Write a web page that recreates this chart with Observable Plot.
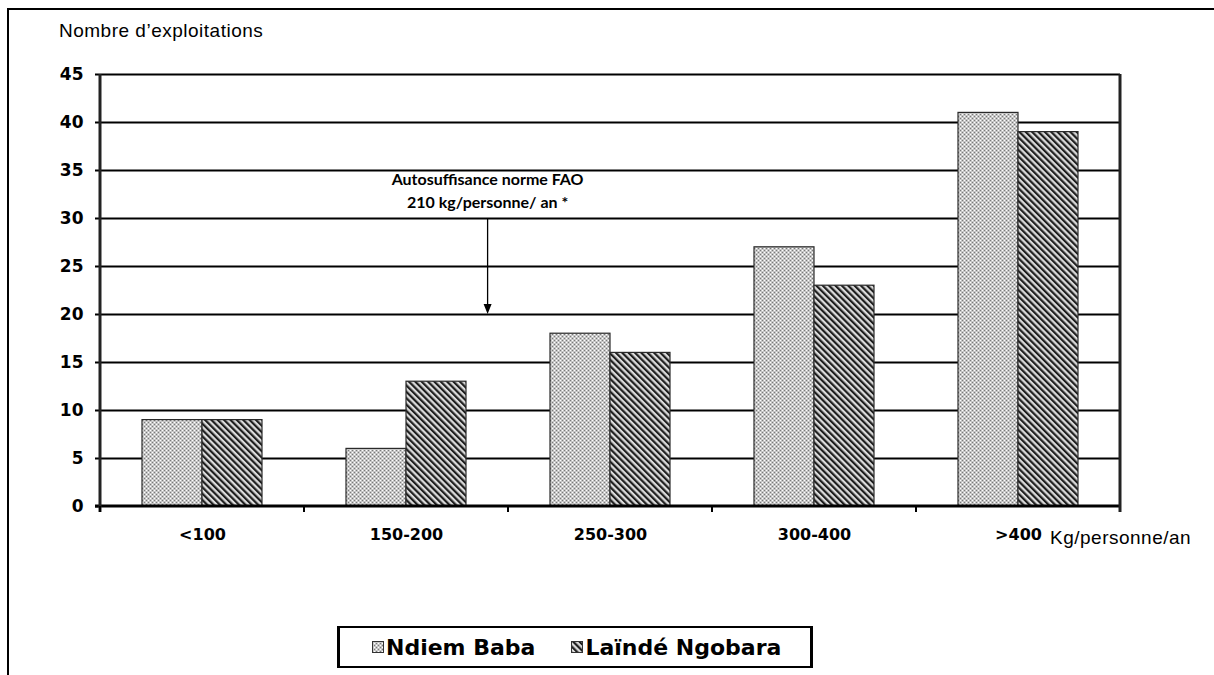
<!DOCTYPE html>
<html><head><meta charset="utf-8">
<script src="https://cdn.jsdelivr.net/npm/d3@7"></script>
<script src="https://cdn.jsdelivr.net/npm/@observablehq/plot@0.6"></script>
<style>
body{margin:0;background:#fff;}
#wrap{position:relative;width:1214px;height:675px;overflow:hidden;background:#fff;font-family:"Liberation Sans",Arial,sans-serif;color:#000;}
.bt{position:absolute;left:7px;top:8px;width:1207px;height:2px;background:#000;}
.bl{position:absolute;left:7px;top:8px;width:2px;height:667px;background:#000;}
#chart{position:absolute;left:0;top:0;}
#title{position:absolute;left:59px;top:20px;font-size:19px;letter-spacing:0.5px;white-space:nowrap;}
#unit{position:absolute;left:1050px;top:527px;font-size:19px;letter-spacing:0.5px;white-space:nowrap;}
#legend{position:absolute;left:337px;top:626px;width:476px;height:42px;border:2px solid #000;border-left-width:3px;border-right-width:3px;display:flex;align-items:center;padding-left:32px;box-sizing:border-box;font-family:"DejaVu Sans",sans-serif;font-weight:bold;font-size:22px;white-space:nowrap;}
#legend .item{display:flex;align-items:center;margin-right:36px;}
#legend svg{margin-right:2px;}
</style>
</head>
<body>
<svg width="0" height="0" style="position:absolute">
<defs>
<pattern id="patNdiem" patternUnits="userSpaceOnUse" width="4" height="4">
 <rect width="4" height="4" fill="#c6c6c6"/>
 <rect x="0" y="0" width="1" height="1" fill="#ffffff"/>
 <rect x="2" y="2" width="1" height="1" fill="#ffffff"/>
 <rect x="2" y="0" width="1" height="1" fill="#7a7a7a"/>
 <rect x="0" y="2" width="1" height="1" fill="#7a7a7a"/>
</pattern>
<pattern id="patLainde" patternUnits="userSpaceOnUse" width="4.5" height="4.5" patternTransform="rotate(-45)">
 <rect width="4.5" height="4.5" fill="#dcdcdc"/>
 <rect width="2.2" height="4.5" fill="#1e1e1e"/>
</pattern>
</defs>
</svg>
<div id="wrap">
  <div class="bt"></div><div class="bl"></div>
  <div id="chart"></div>
  <div id="title"></div>
  <div id="unit"></div>
  <div id="legend"></div>
</div>
<script>
const categories = ["<100", "150-200", "250-300", "300-400", ">400"];
const seriesNames = ["Ndiem Baba", "Laïndé Ngobara"];
const ndiemBaba = [9, 6, 18, 27, 41];
const laindeNgobara = [9, 13, 16, 23, 39];
const yTicks = [0, 5, 10, 15, 20, 25, 30, 35, 40, 45];
const yTitle = "Nombre d’exploitations";
const xUnit = "Kg/personne/an";
const annotationLines = ["Autosuffisance norme FAO", "210 kg/personne/ an *"];
const annotationAt = {category: "150-200", bandFraction: 0.9, yFrom: 30, yTo: 20, textY: [33.9, 31.5]};
const patternIds = ["patNdiem", "patLainde"];

const rows = categories.flatMap((c, i) => [
  {category: c, series: seriesNames[0], value: ndiemBaba[i]},
  {category: c, series: seriesNames[1], value: laindeNgobara[i]}
]);

const plot = Plot.plot({
  width: 1214, height: 590,
  marginLeft: 100, marginRight: 94, marginTop: 74, marginBottom: 84,
  style: {background: "transparent", overflow: "visible"},
  fx: {domain: categories, padding: 0, label: null, axis: null},
  x: {domain: seriesNames, paddingInner: 0, paddingOuter: 0.7, axis: null},
  y: {domain: [0, 45], axis: null},
  color: {domain: seriesNames, range: patternIds.map(id => `url(#${id})`)},
  marks: [
    Plot.ruleY(yTicks.slice(1), {stroke: "#000", strokeWidth: 2}),
    Plot.barY(rows, {fx: "category", x: "series", y: "value", fill: "series", stroke: "#2a2a2a", strokeWidth: 1.2}),
    Plot.axisY({ticks: yTicks, tickSize: 5, tickPadding: 12, strokeWidth: 2, tickFormat: d => String(d), label: null,
      fontSize: 17, fontWeight: "bold", fontFamily: "DejaVu Sans"}),
    Plot.axisFx({anchor: "bottom", tickSize: 0, tickPadding: 22, label: null, fontSize: 16, fontWeight: "bold", fontFamily: "DejaVu Sans"})
  ]
});
document.getElementById("chart").appendChild(plot);

// axis lines, frame and category boundary ticks from the scales
const fx = plot.scale("fx"), y = plot.scale("y");
const xa = fx.range[0], xb = fx.range[1];
const y0 = y.apply(0), yTop = y.apply(45);
const svg = d3.select(plot);
const g = svg.append("g").attr("stroke", "#000").attr("fill", "none");
g.append("line").attr("x1", xa - 5).attr("x2", xb + 1).attr("y1", y0).attr("y2", y0).attr("stroke-width", 3);
g.append("line").attr("x1", xa).attr("x2", xa).attr("y1", yTop).attr("y2", y0 + 6).attr("stroke-width", 3).attr("stroke", "#222");
g.append("line").attr("x1", xb).attr("x2", xb).attr("y1", yTop).attr("y2", y0 + 6).attr("stroke-width", 3).attr("stroke", "#222");
categories.forEach(c => {
  const bx = fx.apply(c);
  g.append("line").attr("x1", bx).attr("x2", bx).attr("y1", y0).attr("y2", y0 + 6).attr("stroke-width", 2);
});

// annotation arrow
const ax = fx.apply(annotationAt.category) + fx.bandwidth * annotationAt.bandFraction;
const ya = y.apply(annotationAt.yFrom), yb = y.apply(annotationAt.yTo);
const ga = svg.append("g");
ga.append("line").attr("x1", ax).attr("x2", ax).attr("y1", ya).attr("y2", yb - 8).attr("stroke", "#000").attr("stroke-width", 1.3);
ga.append("polygon").attr("points", `${ax-4},${yb-10} ${ax+4},${yb-10} ${ax},${yb}`).attr("fill", "#000");
annotationLines.forEach((t, i) => {
  ga.append("text").attr("x", ax).attr("y", y.apply(annotationAt.textY[i]))
    .attr("text-anchor", "middle").attr("dominant-baseline", "middle")
    .attr("font-family", "Lato, 'Open Sans', sans-serif").attr("font-weight", "bold").attr("font-size", 16)
    .text(t);
});

document.getElementById("title").textContent = yTitle;
document.getElementById("unit").textContent = xUnit;

const legend = d3.select("#legend");
seriesNames.forEach((s, i) => {
  const it = legend.append("div").attr("class", "item");
  const sw = it.append("svg").attr("width", 12).attr("height", 12);
  sw.append("rect").attr("x", 0.5).attr("y", 0.5).attr("width", 11).attr("height", 11)
    .attr("fill", `url(#${patternIds[i]})`).attr("stroke", "#333");
  it.append("span").text(s);
});
</script>
</body></html>
